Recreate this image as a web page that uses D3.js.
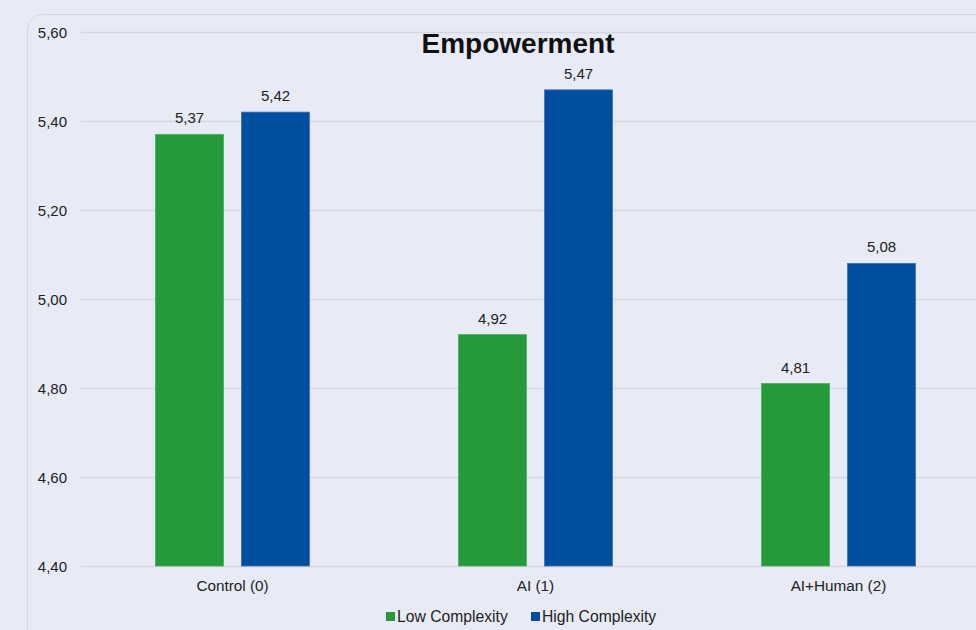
<!DOCTYPE html>
<html><head><meta charset="utf-8">
<script src="https://cdn.jsdelivr.net/npm/d3@7"></script>
<style>body{margin:0;background:#e8eaf6;}svg{display:block;font-family:"Liberation Sans",Arial,sans-serif;}</style>
</head><body><svg id="c" width="976" height="630"></svg>
<script>
const categories = ["Control (0)", "AI (1)", "AI+Human (2)"];
const seriesNames = ["Low Complexity", "High Complexity"];
const lowValues = [5.37, 4.92, 4.81];
const highValues = [5.42, 5.47, 5.08];
const yTicks = [4.40, 4.60, 4.80, 5.00, 5.20, 5.40, 5.60];
const colors = ["#259a3a", "#004f9e"];

const svg = d3.select("#c");
const fmt = v => v.toFixed(2).replace(".", ",");
svg.append("rect").attr("x",0).attr("y",0).attr("width",976).attr("height",630).attr("fill","#e8eaf6");
svg.append("rect").attr("x",27.5).attr("y",14.5).attr("width",1000).attr("height",700).attr("rx",15)
  .attr("fill","#e8eaf6").attr("stroke","#d6d7e0").attr("stroke-width",1);

const x = d3.scaleBand().domain(categories).range([81, 990]);
const y = d3.scaleLinear().domain([4.4, 5.6]).range([566, 32]);
const xs = d3.scaleBand().domain(seriesNames).range([0, 154]).paddingInner(18/86);

const grid = svg.append("g");
grid.selectAll("line").data(yTicks).join("line")
  .attr("x1",81).attr("x2",990).attr("y1",d=>Math.round(y(d))+0.5).attr("y2",d=>Math.round(y(d))+0.5)
  .attr("stroke","#d6d7df").attr("stroke-width",1.5);

const yAxis = svg.append("g").attr("transform","translate(67,0)")
  .call(d3.axisLeft(y).tickValues(yTicks).tickFormat(fmt).tickSize(0).tickPadding(0));
yAxis.select(".domain").remove();
yAxis.selectAll("text").attr("font-size",15).attr("fill","#222").attr("dy",null).attr("y",5.5)
  .attr("font-family","Liberation Sans, Arial, sans-serif");

const xAxis = svg.append("g").attr("transform","translate(0,566)")
  .call(d3.axisBottom(x).tickSize(0).tickPadding(0));
xAxis.select(".domain").remove();
xAxis.selectAll("text").attr("font-size",15.3).attr("fill","#222").attr("dy",null).attr("y",25)
  .attr("font-family","Liberation Sans, Arial, sans-serif");

const data = categories.map((c,i)=>({cat:c, vals:[lowValues[i], highValues[i]]}));
const groups = svg.append("g").selectAll("g").data(data).join("g")
  .attr("transform", d=>`translate(${x(d.cat)+x.bandwidth()/2-77},0)`);
groups.selectAll("rect").data(d=>d.vals.map((v,j)=>({v, s:seriesNames[j], j}))).join("rect")
  .attr("x", d=>xs(d.s)).attr("width", xs.bandwidth())
  .attr("y", d=>y(d.v)).attr("height", d=>566-y(d.v))
  .attr("fill", d=>colors[d.j]).attr("stroke", d=>d.j? "#3a72b8":"#4aae5a").attr("stroke-width",0.8);
groups.selectAll("text").data(d=>d.vals.map((v,j)=>({v, s:seriesNames[j], j}))).join("text")
  .attr("x", d=>xs(d.s)+xs.bandwidth()/2).attr("y", d=>y(d.v)-11)
  .attr("text-anchor","middle").attr("font-size",15).attr("fill","#222").text(d=>fmt(d.v));

svg.append("text").attr("x",518).attr("y",53).attr("text-anchor","middle")
  .attr("font-size",28).attr("font-weight","bold").attr("fill","#111").text("Empowerment");

const legend = svg.append("g");
const items = [{n:seriesNames[0], x:386},{n:seriesNames[1], x:531}];
items.forEach((it,i)=>{
  legend.append("rect").attr("x",it.x).attr("y",612).attr("width",9).attr("height",9).attr("fill",colors[i]);
  legend.append("text").attr("x",it.x+11).attr("y",622).attr("font-size",15.7).attr("fill","#222").text(it.n);
});
</script></body></html>
